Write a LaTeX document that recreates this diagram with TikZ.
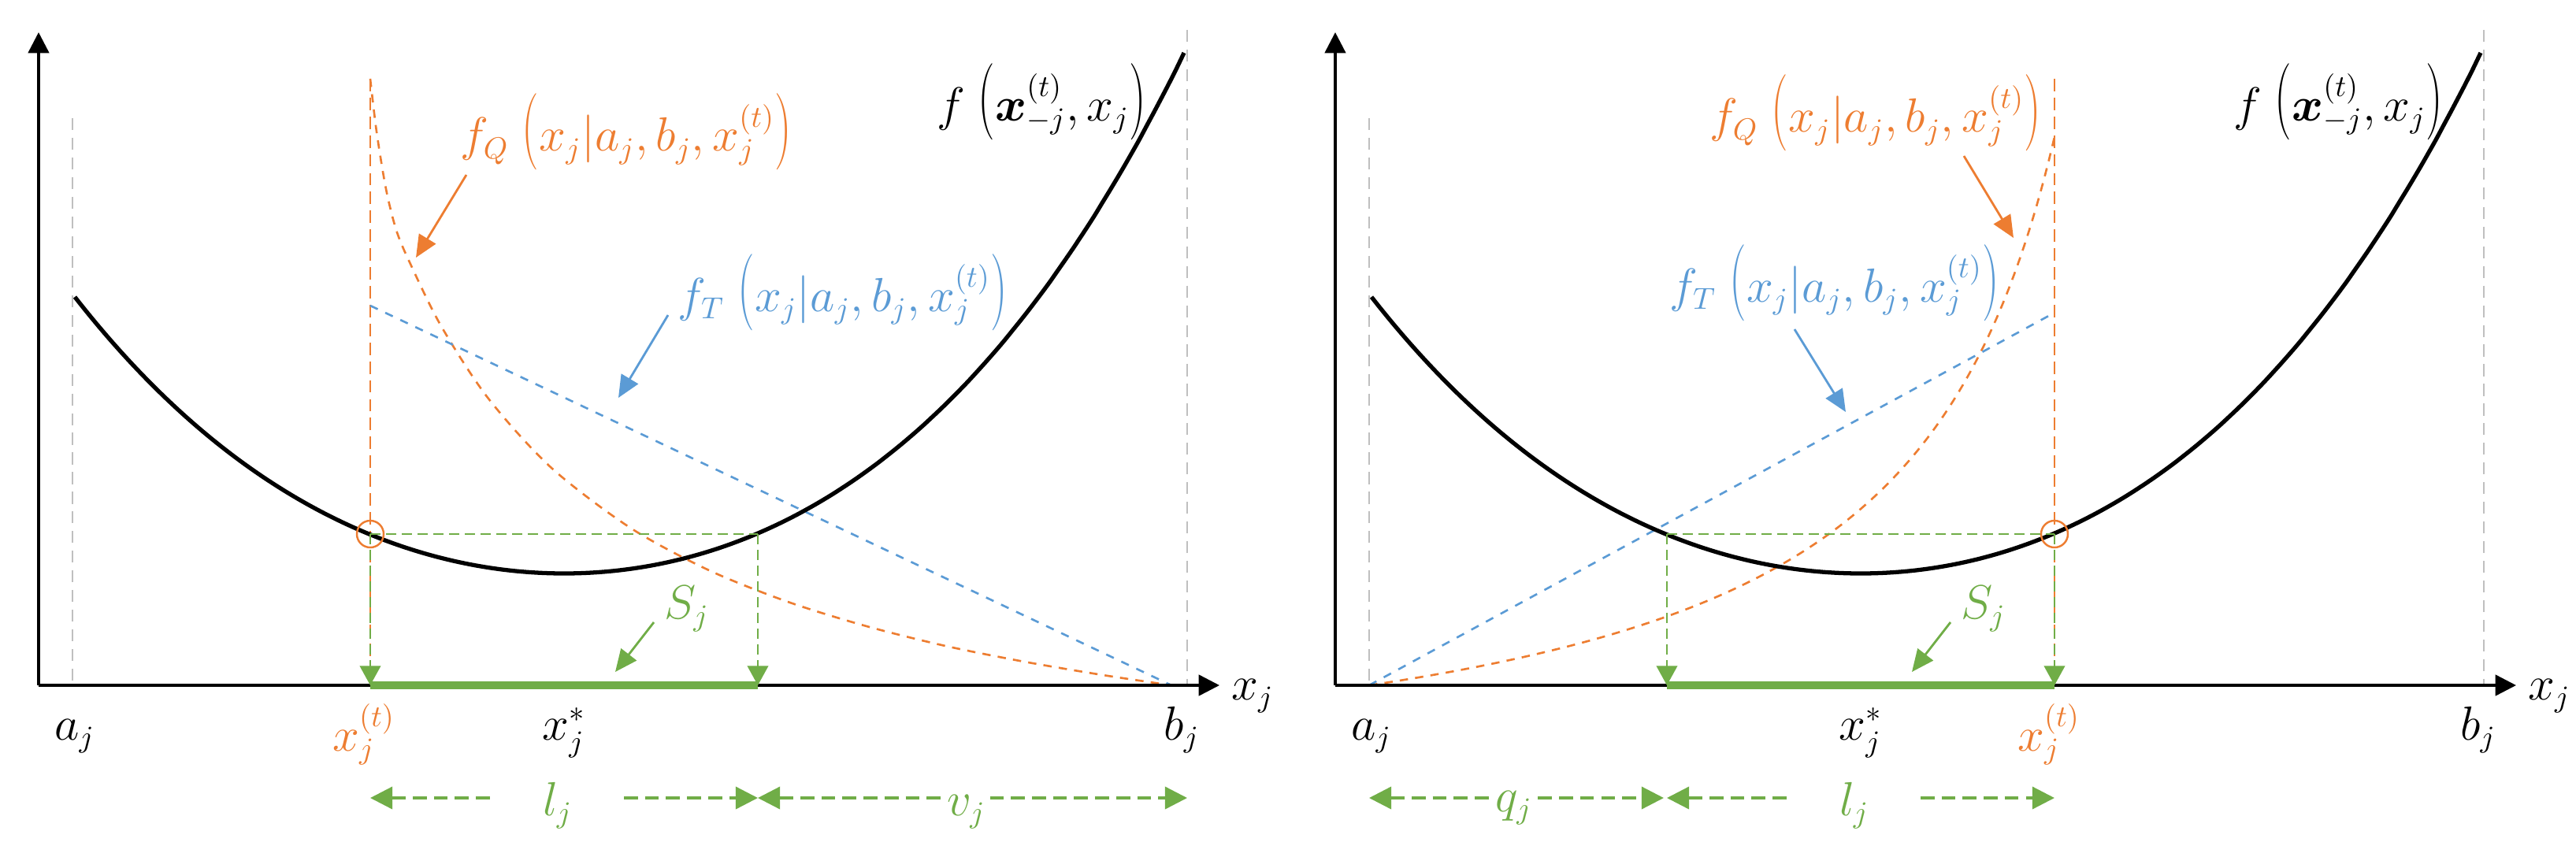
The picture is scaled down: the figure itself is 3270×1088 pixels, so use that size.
\documentclass[tikz,border=0pt]{standalone}
\usepackage{bm}
\usepackage{graphicx}
\usetikzlibrary{arrows.meta}
\definecolor{cor}{HTML}{ED7D31}
\definecolor{cbl}{HTML}{5B9BD5}
\definecolor{cgr}{HTML}{70AD47}
\definecolor{cgy}{HTML}{BFBFBF}
\tikzset{
  declare function={rise(\u)=0.0808*\u*\u+0.000534*\u*\u*\u+0.0003503*\u*\u*\u*\u;},
  axisline/.style={line width=1pt, -{Triangle[length=7.5pt,width=7.5pt]}},
  fcurve/.style={line width=1.5pt},
  guide/.style={cgy, line width=0.6pt, dash pattern=on 4.3pt off 2.8pt},
  orvert/.style={cor, line width=0.75pt, dash pattern=on 4.5pt off 2.3pt},
  orcurve/.style={cor, line width=0.75pt, dash pattern=on 3pt off 2.6pt},
  blline/.style={cbl, line width=0.75pt, dash pattern=on 3pt off 3pt},
  grdash/.style={cgr, line width=0.75pt, dash pattern=on 3.7pt off 2pt},
  grdown/.style={grdash, -{Triangle[length=7pt,width=7.5pt]}},
  grbar/.style={cgr, line width=2.8pt},
  dimline/.style={cgr, line width=0.95pt, dash pattern=on 5pt off 2.6pt},
  tipR/.style={-{Triangle[length=8pt,width=8pt]}},
  tipL/.style={{Triangle[length=8pt,width=8pt]}-},
  tipLR/.style={{Triangle[length=8pt,width=8pt]}-{Triangle[length=8pt,width=8pt]}},
  lblarrow/.style={line width=0.8pt, -{Triangle[length=8pt,width=7pt]}},
  lbl/.style={font=\fontsize{16}{19}\selectfont, inner sep=0pt, anchor=base},
  ptmark/.style={cor, line width=0.7pt},
}
\newcommand\tallp[1]{\mathord{\scalebox{1}[1.6]{$#1$}}}
\newcommand\condarg{\;\tallp{(}x_j|a_j{,}\,b_j{,}\,x_j^{(t)}\tallp{)}}
\newcommand\drawpanel[1]{%
  \coordinate (#1-atop) at (92,150);
  \coordinate (#1-abot) at (92,870);
  \coordinate (#1-btop) at (1507,38);
  \coordinate (#1-bbot) at (1507,870);
  \draw[guide] (#1-atop) -- (#1-abot);
  \draw[guide] (#1-btop) -- (#1-bbot);
}
\newcommand\drawcommon[1]{%
  \draw[fcurve] plot[domain=95:1503, samples=150, smooth] (\x,{728-100*rise((\x-716)/100)});
  \coordinate (#1-o) at (49,870);
  \coordinate (#1-ytop) at (49,41);
  \coordinate (#1-xend) at (1548,870);
  \draw[axisline] (#1-o) -- (#1-ytop);
  \draw[axisline] (#1-o) -- (#1-xend);
  \coordinate (#1-s1) at (470,870);
  \coordinate (#1-s2) at (962,870);
  \coordinate (#1-h1) at (470,678);
  \coordinate (#1-h2) at (962,678);
  \draw[grdash] (#1-h1) -- (#1-h2);
  \draw[grdown] (#1-h1) -- (#1-s1);
  \draw[grdown] (#1-h2) -- (#1-s2);
  \draw[grbar] (#1-s1) -- (#1-s2);
  \node[lbl] (#1-aj) at (95,939) {$a_j$};
  \node[lbl] (#1-bj) at (1500,939) {$b_j$};
  \node[lbl] (#1-xj) at (1590,888) {$x_j$};
  \node[lbl] (#1-xs) at (716,939) {$x_j^*$};
  \node[lbl] (#1-f) at (1322,153) {$f\;\tallp{(}\bm{x}_{-j}^{(t)}{,}\,x_j\tallp{)}$};
  \node[lbl, cgr, anchor=base west] (#1-S) at (843,785) {$S_j$};
  \coordinate (#1-Sa) at (830,790);
  \coordinate (#1-Sb) at (781,853);
  \draw[lblarrow, cgr] (#1-Sa) -- (#1-Sb);
  \coordinate (#1-l1) at (470,1013);
  \coordinate (#1-l2) at (962,1013);
  \coordinate (#1-g1) at (625,1013);
  \coordinate (#1-g2) at (792,1013);
  \draw[dimline, tipL] (#1-l1) -- (#1-g1);
  \draw[dimline, tipR] (#1-g2) -- (#1-l2);
  \node[lbl, cgr] (#1-lj) at (708,1035) {$l_j$};
}
\begin{document}
\begin{tikzpicture}[x=0.01cm, y=-0.01cm]
\useasboundingbox (0,0) rectangle (3270,1088);
% ================= LEFT PANEL =================
\drawpanel{L}
\coordinate (L-xt-top) at (470,100);
\coordinate (L-xt-bot) at (470,870);
\draw[orvert] (L-xt-top) -- (L-xt-bot);
\draw[orcurve] plot[smooth] coordinates {(470,100) (478,167) (490,240) (503,292) (520,333) (560,414) (620,506) (700,594) (800,670) (900,724) (1000,764) (1100,795) (1200,820) (1300,840) (1400,857) (1487,870)};
\coordinate (L-t1) at (470,388);
\coordinate (L-t2) at (1487,870);
\draw[blline] (L-t1) -- (L-t2);
\drawcommon{L}
\draw[ptmark] (470,678) circle[radius=1.7mm];
\node[lbl, cor] (L-xt) at (462,953) {$x_j^{(t)}$};
\node[lbl, cor] (L-fQ) at (795,192) {$f_Q\condarg$};
\coordinate (L-qa) at (592,222);
\coordinate (L-qb) at (528,327);
\draw[lblarrow, cor] (L-qa) -- (L-qb);
\node[lbl, cbl] (L-fT) at (1070,395) {$f_T\condarg$};
\coordinate (L-ta) at (848,400);
\coordinate (L-tb) at (785,505);
\draw[lblarrow, cbl] (L-ta) -- (L-tb);
\coordinate (L-v1) at (962,1013);
\coordinate (L-v2) at (1507,1013);
\draw[dimline, tipLR] (L-v1) -- (L-v2);
\node[lbl, cgr, fill=white, inner sep=1pt] (L-vj) at (1227,1035) {$v_j$};

% ================= RIGHT PANEL =================
\begin{scope}[xshift=16.45cm]
\drawpanel{R}
\coordinate (R-xt-top) at (962,100);
\coordinate (R-xt-bot) at (962,870);
\draw[orvert] (R-xt-top) -- (R-xt-bot);
\draw[orcurve] plot[domain=92:962, samples=120, smooth] (\x,{870-(1712.18/((1162-\x)/100)-160.02)});
\coordinate (R-t1) at (92,870);
\coordinate (R-t2) at (962,397);
\draw[blline] (R-t1) -- (R-t2);
\drawcommon{R}
\draw[ptmark] (962,678) circle[radius=1.7mm];
\node[lbl, cor] (R-xt) at (955,953) {$x_j^{(t)}$};
\node[lbl, cor] (R-fQ) at (735,168) {$f_Q\condarg$};
\coordinate (R-qa) at (847,198);
\coordinate (R-qb) at (910,302);
\draw[lblarrow, cor] (R-qa) -- (R-qb);
\node[lbl, cbl] (R-fT) at (683,383) {$f_T\condarg$};
\coordinate (R-ta) at (632,418);
\coordinate (R-tb) at (697,523);
\draw[lblarrow, cbl] (R-ta) -- (R-tb);
\coordinate (R-q1) at (92,1013);
\coordinate (R-q2) at (466,1013);
\draw[dimline, tipLR] (R-q1) -- (R-q2);
\node[lbl, cgr, fill=white, inner sep=1pt] (R-qj) at (276,1030) {$q_j$};
\end{scope}
\end{tikzpicture}
\end{document}
